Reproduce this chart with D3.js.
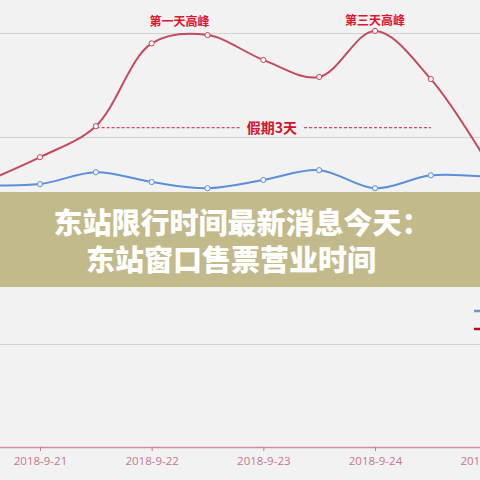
<!DOCTYPE html>
<html>
<head>
<meta charset="utf-8">
<script src="https://cdn.jsdelivr.net/npm/d3@7"></script>
<style>
  html, body { margin: 0; padding: 0; background: #f2f2f2; }
  svg { display: block; }
</style>
</head>
<body>
<svg id="chart" width="480" height="480"></svg>
<script>
// half-day points, 2018-9-20 12:00 to 2018-9-25 00:00
const times = ["2018-09-20T12:00", "2018-09-21T00:00", "2018-09-21T12:00", "2018-09-22T00:00",
               "2018-09-22T12:00", "2018-09-23T00:00", "2018-09-23T12:00", "2018-09-24T00:00",
               "2018-09-24T12:00", "2018-09-25T00:00"]
const redValues  = [2560, 2800, 3100, 3900, 3980, 3740, 3575, 4020, 3555, 2760]
const blueValues = [2530, 2540, 2655, 2560, 2500, 2580, 2675, 2500, 2625, 2610]
const tickDates  = ["2018-09-21", "2018-09-22", "2018-09-23", "2018-09-24", "2018-09-25"]
const tickLabels = ["2018-9-21", "2018-9-22", "2018-9-23", "2018-9-24", "2018-9-25"]
const gridValues = [1000, 2000, 3000, 4000]
const notes = [
    {text: "第一天高峰", t: "2018-09-22T06:00", v: 4070},
    {text: "第三天高峰", t: "2018-09-24T00:00", v: 4080}
]
const holiday = {text: "假期3天", from: "2018-09-21T12:10", to: "2018-09-24T12:00", v: 3085}
const bannerLines = ["东站限行时间最新消息今天：", "东站窗口售票营业时间"]

const parse = d3.timeParse("%Y-%m-%dT%H:%M")
const parseDay = d3.timeParse("%Y-%m-%d")

const svg = d3.select("#chart")

const xScale = d3.scaleTime()
    .domain([parseDay("2018-09-21"), parseDay("2018-09-24")])
    .range([40, 375])
const yScale = d3.scaleLinear()
    .domain([0, 4000])
    .range([447, 33])

// grid
svg.append("g")
    .selectAll("line")
    .data(gridValues)
    .enter()
    .append("line")
    .attr("x1", 0).attr("x2", 480)
    .attr("y1", d => Math.round(yScale(d)) + 0.5)
    .attr("y2", d => Math.round(yScale(d)) + 0.5)
    .attr("stroke", "#d2d2d2")
    .attr("stroke-width", 1.2)

// x axis
const xAxis = svg.append("g")
    .attr("transform", "translate(0,447)")
    .call(d3.axisBottom(xScale)
        .tickValues(tickDates.map(parseDay))
        .tickFormat((d, i) => tickLabels[i])
        .tickSize(4)
        .tickSizeOuter(0))
xAxis.select(".domain").attr("stroke", "#d98d9b").attr("stroke-width", 1.3).attr("d", "M-10,0.5H490")
xAxis.selectAll(".tick line").attr("stroke", "#c9768a")
xAxis.selectAll(".tick text")
    .attr("fill", "#c8768a")
    .attr("font-family", "'Open Sans', 'DejaVu Sans', sans-serif")
    .attr("font-size", 11.5)
    .attr("dy", "0.95em")

// holiday dashed line with label
const hy = yScale(holiday.v)
const hx1 = xScale(parse(holiday.from)), hx2 = xScale(parse(holiday.to))
svg.append("line")
    .attr("x1", hx1).attr("x2", 241)
    .attr("y1", hy).attr("y2", hy)
    .attr("stroke", "#d9475a").attr("stroke-width", 1.3)
    .attr("stroke-dasharray", "3,2")
svg.append("line")
    .attr("x1", 304).attr("x2", hx2)
    .attr("y1", hy).attr("y2", hy)
    .attr("stroke", "#d9475a").attr("stroke-width", 1.3)
    .attr("stroke-dasharray", "3,2")
svg.append("text")
    .attr("x", 272).attr("y", hy + 5)
    .attr("text-anchor", "middle")
    .attr("fill", "#d5122c")
    .attr("font-family", "'Noto Sans CJK SC', sans-serif")
    .attr("font-weight", "bold")
    .attr("font-size", 14)
    .text(holiday.text)

// lines
const series = [
    {values: blueValues, color: "#5b8fd9"},
    {values: redValues, color: "#c44a5e"}
]
const line = d3.line()
    .x(d => xScale(d.t))
    .y(d => yScale(d.v))
    .curve(d3.curveCatmullRom.alpha(0.5))

series.forEach(s => {
    const pts = times.map((t, i) => ({t: parse(t), v: s.values[i]}))
    svg.append("path")
        .attr("fill", "none")
        .attr("stroke", s.color)
        .attr("stroke-width", 2)
        .attr("d", line(pts))
    svg.append("g")
        .selectAll("circle")
        .data(pts)
        .enter()
        .append("circle")
        .attr("cx", d => xScale(d.t))
        .attr("cy", d => yScale(d.v))
        .attr("r", 2.6)
        .attr("fill", "#f4f4f4")
        .attr("stroke", s.color)
        .attr("stroke-width", 1)
})

// peak notes
svg.append("g")
    .selectAll("text")
    .data(notes)
    .enter()
    .append("text")
    .attr("x", d => xScale(parse(d.t)))
    .attr("y", d => yScale(d.v))
    .attr("text-anchor", "middle")
    .attr("fill", "#e0142c")
    .attr("font-family", "'Noto Sans CJK SC', serif")
    .attr("font-weight", "bold")
    .attr("font-size", 12)
    .text(d => d.text)

// legend, cut at the right edge
svg.append("line").attr("x1", 474).attr("x2", 482).attr("y1", 311).attr("y2", 311)
    .attr("stroke", "#6f97c9").attr("stroke-width", 2.5)
svg.append("line").attr("x1", 474).attr("x2", 482).attr("y1", 329).attr("y2", 329)
    .attr("stroke", "#b01020").attr("stroke-width", 2.5)

// banner
svg.append("rect")
    .attr("x", 0).attr("y", 192)
    .attr("width", 480).attr("height", 95)
    .attr("fill", "#beb582")
    .attr("opacity", 0.92)
svg.append("text")
    .attr("x", 242).attr("y", 234)
    .attr("text-anchor", "middle")
    .attr("fill", "#ffffff")
    .attr("font-family", "'Noto Sans CJK SC', sans-serif")
    .attr("font-weight", 900)
    .attr("font-size", 29)
    .text(bannerLines[0])
svg.append("text")
    .attr("x", 86).attr("y", 271)
    .attr("fill", "#ffffff")
    .attr("font-family", "'Noto Sans CJK SC', sans-serif")
    .attr("font-weight", 900)
    .attr("font-size", 29)
    .text(bannerLines[1])
</script>
</body>
</html>
